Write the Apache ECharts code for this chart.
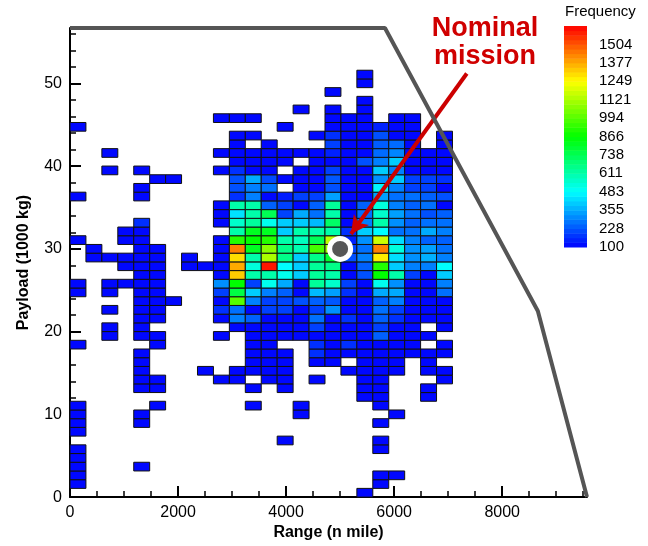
<!DOCTYPE html>
<html>
<head>
<meta charset="utf-8">
<script src="https://cdn.jsdelivr.net/npm/echarts@6/dist/echarts.min.js"></script>
<style>
  html, body { margin: 0; padding: 0; background: #ffffff; }
  #chart { width: 648px; height: 546px; }
</style>
</head>
<body>
<div id="chart"></div>
<script>
// Bin sizes of the 2-D histogram
const rangeStep = 295;      // n mile per range bin
const payloadStep = 1.053;  // 1000 kg per payload bin

// frequency[r][c]: payload bin r (counted upward from 0), range bin c (counted from 0); 0 = empty
const frequency = [
  /* 0 */ [0,0,0,0,0,0,0,0,0, 0,0,0,0,0,0,0,0,0,110,0,0,0,0,0],
  /* 1 */ [110,0,0,0,0,0,0,0,0, 0,0,0,0,0,0,0,0,0,0,110,0,0,0,0],
  /* 2 */ [110,0,0,0,0,0,0,0,0, 0,0,0,0,0,0,0,0,0,0,110,110,0,0,0],
  /* 3 */ [110,0,0,0,110,0,0,0,0, 0,0,0,0,0,0,0,0,0,0,0,0,0,0,0],
  /* 4 */ [110,0,0,0,0,0,0,0,0, 0,0,0,0,0,0,0,0,0,0,0,0,0,0,0],
  /* 5 */ [110,0,0,0,0,0,0,0,0, 0,0,0,0,0,0,0,0,0,0,110,0,0,0,0],
  /* 6 */ [0,0,0,0,0,0,0,0,0, 0,0,0,0,110,0,0,0,0,0,110,0,0,0,0],
  /* 7 */ [110,0,0,0,0,0,0,0,0, 0,0,0,0,0,0,0,0,0,0,0,0,0,0,0],
  /* 8 */ [110,0,0,0,110,0,0,0,0, 0,0,0,0,0,0,0,0,0,0,110,0,0,0,0],
  /* 9 */ [110,0,0,0,110,0,0,0,0, 0,0,0,0,0,110,0,0,0,0,0,110,0,0,0],
  /*10 */ [110,0,0,0,0,110,0,0,0, 0,0,110,0,0,110,0,0,0,0,110,0,0,0,0],
  /*11 */ [0,0,0,0,0,0,0,0,0, 0,0,0,0,0,0,0,0,0,110,110,0,0,110,0],
  /*12 */ [0,0,0,0,110,110,0,0,0, 0,0,110,0,110,0,0,0,0,110,110,0,0,110,0],
  /*13 */ [0,0,0,0,110,110,0,0,0, 110,110,0,110,110,0,110,0,0,110,110,0,0,0,110],
  /*14 */ [0,0,0,0,110,0,0,0,110, 0,110,110,110,110,0,0,0,110,110,110,110,0,110,110],
  /*15 */ [0,0,0,0,110,0,0,0,0, 0,0,110,110,110,0,110,110,0,110,110,110,0,110,0],
  /*16 */ [0,0,0,0,110,0,0,0,0, 0,0,110,110,110,0,170,110,110,110,110,110,110,110,110],
  /*17 */ [110,0,0,0,0,110,0,0,0, 0,0,110,110,0,0,170,110,170,110,110,110,110,0,110],
  /*18 */ [0,0,110,0,110,110,0,0,0, 110,0,110,110,110,110,110,110,110,110,244,110,110,110,0],
  /*19 */ [0,0,110,0,110,0,0,0,0, 0,110,110,110,110,110,196,110,110,110,196,110,110,0,110],
  /*20 */ [0,0,0,0,110,110,0,0,0, 110,292,244,110,110,110,268,110,172,110,244,172,110,110,110],
  /*21 */ [0,0,110,0,110,110,0,0,0, 172,268,110,196,196,110,196,316,110,110,268,196,110,110,110],
  /*22 */ [0,0,0,0,110,110,110,0,0, 110,994,292,196,200,220,244,230,110,110,244,292,110,110,110],
  /*23 */ [110,0,110,0,110,110,0,0,0, 196,764,407,292,244,110,380,340,172,110,355,355,110,110,268],
  /*24 */ [110,0,110,110,110,110,0,0,0, 316,866,196,509,355,110,636,560,196,110,509,316,110,110,292],
  /*25 */ [0,0,0,0,110,110,0,0,0, 110,1326,611,611,509,407,636,611,110,220,866,611,196,110,407],
  /*26 */ [0,0,0,110,110,110,0,110,110, 110,1377,534,1600,483,407,636,662,110,244,917,407,292,292,483],
  /*27 */ [0,110,110,110,110,110,0,110,0, 110,1300,611,1121,662,407,662,800,220,292,1275,437,316,364,292],
  /*28 */ [0,110,0,0,110,110,0,0,0, 110,1440,815,1070,662,600,968,1100,200,268,1440,534,316,340,268],
  /*29 */ [110,0,0,110,110,0,0,0,0, 110,917,866,917,611,580,740,1150,150,316,1172,432,292,244,244],
  /*30 */ [0,0,0,110,110,0,0,0,0, 0,611,815,815,407,611,611,611,172,407,483,268,268,355,292],
  /*31 */ [0,0,0,0,170,0,0,0,0, 110,560,630,509,407,407,380,713,110,292,611,316,244,268,268],
  /*32 */ [0,0,0,0,0,0,0,0,0, 110,440,611,740,200,355,268,611,110,268,560,340,268,220,244],
  /*33 */ [0,0,0,0,0,0,0,0,0, 110,611,611,244,196,110,244,636,110,244,534,292,244,268,110],
  /*34 */ [110,0,0,0,110,0,0,0,0, 0,172,292,110,140,196,196,340,110,110,340,268,268,244,220],
  /*35 */ [0,0,0,0,110,0,0,0,0, 0,220,292,268,0,110,110,220,110,110,470,292,196,196,110],
  /*36 */ [0,0,0,0,0,110,110,0,0, 0,220,355,210,110,110,110,230,110,110,316,407,196,196,172],
  /*37 */ [0,0,110,0,110,0,0,0,0, 110,172,110,110,0,110,110,196,110,110,407,292,110,110,110],
  /*38 */ [0,0,0,0,0,0,0,0,0, 0,110,110,110,110,0,110,110,110,220,292,407,110,110,110],
  /*39 */ [0,0,110,0,0,0,0,0,0, 110,110,110,110,110,110,110,150,110,110,260,300,110,110,110],
  /*40 */ [0,0,0,0,0,0,0,0,0, 0,110,0,110,0,0,0,196,110,110,240,260,110,0,110],
  /*41 */ [0,0,0,0,0,0,0,0,0, 0,110,110,0,0,0,110,170,110,110,220,110,110,0,110],
  /*42 */ [110,0,0,0,0,0,0,0,0, 0,0,0,0,110,0,0,110,110,110,150,110,110,0,0],
  /*43 */ [0,0,0,0,0,0,0,0,0, 110,110,110,0,0,0,0,110,110,110,0,110,110,0,0],
  /*44 */ [0,0,0,0,0,0,0,0,0, 0,0,0,0,0,110,0,110,0,110,0,0,0,0,0],
  /*45 */ [0,0,0,0,0,0,0,0,0, 0,0,0,0,0,0,0,0,0,110,0,0,0,0,0],
  /*46 */ [0,0,0,0,0,0,0,0,0, 0,0,0,0,0,0,0,110,0,0,0,0,0,0,0],
  /*47 */ [0,0,0,0,0,0,0,0,0, 0,0,0,0,0,0,0,0,0,110,0,0,0,0,0],
  /*48 */ [0,0,0,0,0,0,0,0,0, 0,0,0,0,0,0,0,0,0,110,0,0,0,0,0]
];

// Feasibility envelope (range, payload)
const envelopeRange   = [0, 5830, 8660, 9570];
const envelopePayload = [56.7, 56.7, 22.5, 0];

// Nominal mission and its call-out arrow
const nominalMission = [5000, 30];
const arrowTail = [7345, 51.2];
const arrowHead = [5200, 31.8];

// Axis ticks
const rangeMajorTicks = [0, 2000, 4000, 6000, 8000];
const rangeMinorTicks = [500, 1000, 1500, 2500, 3000, 3500, 4500, 5000, 5500, 6500, 7000, 7500, 8500, 9000, 9500];
const payloadMajorTicks = [0, 10, 20, 30, 40, 50];
const payloadMinorTicks = [2, 4, 6, 8, 12, 14, 16, 18, 22, 24, 26, 28, 32, 34, 36, 38, 42, 44, 46, 48, 52, 54, 56];

// Colour scale
const freqMin = 100;
const freqMax = 1632;
const colorbarLabels = ['100', '228', '355', '483', '611', '738', '866', '994', '1121', '1249', '1377', '1504'];
const colorbarBands = 48;

const FONT = 'Liberation Sans, Arial, Helvetica, sans-serif';

const cells = [];
frequency.forEach((row, r) => {
  row.forEach((v, c) => {
    if (v > 0) cells.push([c * rangeStep, r * payloadStep, v]);
  });
});

const bands = [];
for (let i = 0; i < colorbarBands; i++) {
  const lo = i / colorbarBands * colorbarLabels.length;
  const hi = (i + 1) / colorbarBands * colorbarLabels.length;
  bands.push([lo, hi, freqMin + (i + 0.5) / colorbarBands * (freqMax - freqMin)]);
}

const plainNumber = (v) => String(v);

const chart = echarts.init(document.getElementById('chart'));

chart.setOption({
  animation: false,
  backgroundColor: '#ffffff',
  grid: [
    { left: 70, right: 61, top: 28, bottom: 46 },
    { left: 564, top: 26, width: 23, height: 221 }
  ],
  visualMap: {
    type: 'continuous',
    show: false,
    min: freqMin,
    max: freqMax,
    dimension: 2,
    seriesIndex: [0, 3],
    inRange: { color: ['#0000ff', '#00ffff', '#00ff00', '#ffff00', '#ff0000'] }
  },
  xAxis: [
    {
      type: 'value', gridIndex: 0, min: 0, max: 9570, position: 'bottom',
      name: 'Range (n mile)', nameLocation: 'middle', nameGap: 26,
      nameTextStyle: { fontFamily: FONT, fontSize: 16, fontWeight: 'bold', color: '#000' },
      axisLine: { show: true, lineStyle: { color: '#000', width: 2 } },
      axisTick: { show: true, inside: true, length: 11, customValues: rangeMajorTicks, lineStyle: { color: '#000', width: 2 } },
      axisLabel: { show: true, customValues: rangeMajorTicks, formatter: plainNumber, margin: 7, fontFamily: FONT, fontSize: 16, color: '#000' },
      splitLine: { show: false }
    },
    {
      type: 'value', gridIndex: 0, min: 0, max: 9570, position: 'bottom',
      axisLine: { show: false },
      axisTick: { show: true, inside: true, length: 6, customValues: rangeMinorTicks, lineStyle: { color: '#000', width: 1.5 } },
      axisLabel: { show: false },
      splitLine: { show: false }
    },
    { type: 'value', gridIndex: 1, min: 0, max: 1, show: false }
  ],
  yAxis: [
    {
      type: 'value', gridIndex: 0, min: 0, max: 56.7, position: 'left',
      name: 'Payload (1000 kg)', nameLocation: 'middle', nameGap: 38,
      nameTextStyle: { fontFamily: FONT, fontSize: 16, fontWeight: 'bold', color: '#000' },
      axisLine: { show: true, lineStyle: { color: '#000', width: 2 } },
      axisTick: { show: true, inside: true, length: 11, customValues: payloadMajorTicks, lineStyle: { color: '#000', width: 2 } },
      axisLabel: { show: true, customValues: payloadMajorTicks, formatter: plainNumber, margin: 8, fontFamily: FONT, fontSize: 16, color: '#000' },
      splitLine: { show: false }
    },
    {
      type: 'value', gridIndex: 0, min: 0, max: 56.7, position: 'left',
      axisLine: { show: false },
      axisTick: { show: true, inside: true, length: 6, customValues: payloadMinorTicks, lineStyle: { color: '#000', width: 1.5 } },
      axisLabel: { show: false },
      splitLine: { show: false }
    },
    {
      type: 'value', gridIndex: 1, min: 0, max: colorbarLabels.length, interval: 1, position: 'right',
      axisLine: { show: false }, axisTick: { show: false }, splitLine: { show: false },
      axisLabel: {
        margin: 12, fontFamily: FONT, fontSize: 15, color: '#000',
        formatter: (v) => colorbarLabels[Math.round(v)] || ''
      }
    }
  ],
  series: [
    {
      type: 'custom',
      xAxisIndex: 0, yAxisIndex: 0,
      data: cells,
      z: 2,
      renderItem: (params, api) => {
        const x0 = api.value(0), y0 = api.value(1);
        const p0 = api.coord([x0, y0]);
        const p1 = api.coord([x0 + rangeStep, y0 + payloadStep]);
        return {
          type: 'rect',
          shape: { x: p0[0], y: p1[1], width: p1[0] - p0[0], height: p0[1] - p1[1] },
          style: { fill: api.visual('color'), stroke: '#111111', lineWidth: 1 }
        };
      }
    },
    {
      type: 'line',
      xAxisIndex: 0, yAxisIndex: 0,
      data: envelopeRange.map((x, i) => [x, envelopePayload[i]]),
      symbol: 'none',
      clip: false,
      z: 5,
      lineStyle: { color: '#555555', width: 4 }
    },
    {
      type: 'scatter',
      xAxisIndex: 0, yAxisIndex: 0,
      data: [nominalMission],
      symbol: 'circle',
      symbolSize: 21,
      z: 6,
      itemStyle: { color: '#575757', borderColor: '#ffffff', borderWidth: 5, opacity: 1 },
      markLine: {
        silent: true,
        symbol: ['none', 'arrow'],
        symbolSize: [14, 18],
        label: { show: false },
        lineStyle: { color: '#cc0000', width: 4, type: 'solid' },
        emphasis: { disabled: true },
        data: [[{ coord: arrowTail }, { coord: arrowHead }]]
      }
    },
    {
      type: 'custom',
      xAxisIndex: 2, yAxisIndex: 2,
      data: bands,
      renderItem: (params, api) => {
        const p0 = api.coord([0, api.value(0)]);
        const p1 = api.coord([1, api.value(1)]);
        return {
          type: 'rect',
          shape: { x: p0[0], y: p1[1], width: p1[0] - p0[0], height: p0[1] - p1[1] + 0.5 },
          style: { fill: api.visual('color') }
        };
      }
    }
  ],
  graphic: [
    {
      type: 'text', left: 565, top: 4,
      style: { text: 'Frequency', fontFamily: FONT, fontSize: 15, fill: '#000' }
    },
    {
      type: 'text', x: 485, y: 15,
      style: {
        text: 'Nominal\nmission', fontFamily: FONT, fontSize: 27, fontWeight: 'bold',
        lineHeight: 28, fill: '#d00000', align: 'center', verticalAlign: 'top'
      }
    }
  ]
});
</script>
</body>
</html>
